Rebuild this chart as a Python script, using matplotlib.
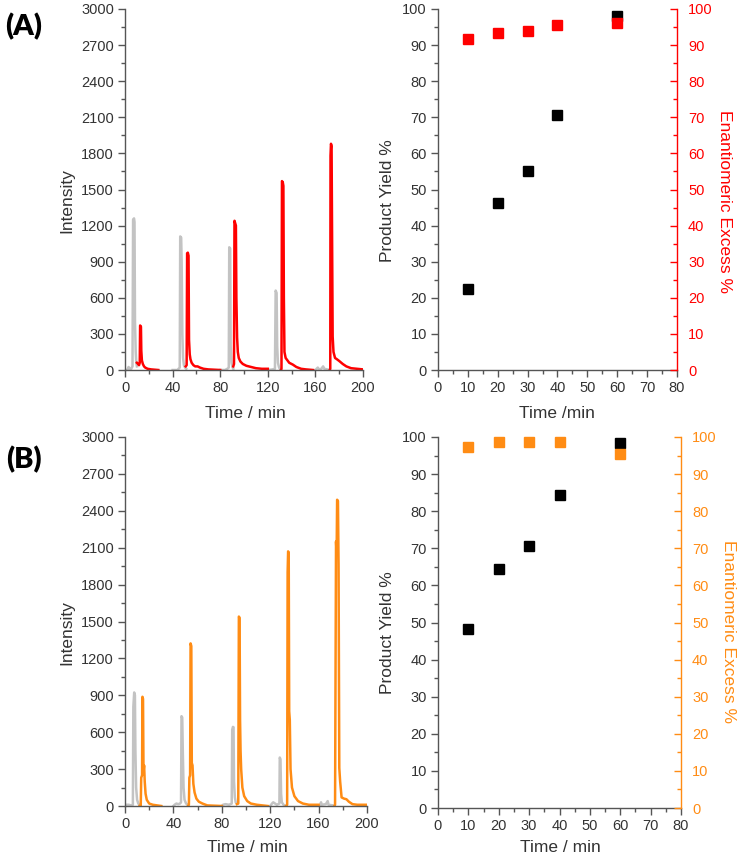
import numpy as np
import matplotlib
matplotlib.use("Agg")
import matplotlib.pyplot as plt
from matplotlib.ticker import MultipleLocator

plt.rcParams["font.family"] = ["Liberation Sans", "DejaVu Sans"]

nan = np.nan

# ---- panel A chromatogram (grey = before, red = product) ----
a_grey_time = [0, 2, 3, 4, 5, 6.3, 6.8, 7.6, 8.0, 8.4, 9, 9.5, 10, nan,
               40, 44, 45, 46, 46.4, 47.2, 47.6, 48.2, 48.8, 49.5, 50.5, 51.5, nan,
               80, 84, 86, 87.2, 87.6, 88.4, 88.8, 89.5, 90.5, 91, nan,
               120, 124, 126, 126.6, 127.4, 127.9, 128.5, 129.5, 131, nan,
               160, 162, 163, 165, 166.5, 167.5, 170, 172]
a_grey_int = [0, 0, 25, 10, 5, 30, 1250, 1260, 1230, 400, 150, 60, 30, nan,
              0, 0, 10, 20, 1110, 1100, 900, 300, 100, 40, 20, 10, nan,
              0, 0, 10, 20, 1020, 1010, 200, 60, 20, 10, nan,
              0, 5, 10, 660, 640, 200, 60, 20, 0, nan,
              0, 20, 5, 10, 30, 10, 5, 0]
a_red_time = [10, 11, 11.8, 12.4, 12.7, 13.4, 13.7, 14.2, 15, 16, 17, 19, 22, 28, nan,
              51, 51.8, 52.2, 52.8, 53.4, 53.8, 54.4, 55, 56, 57.5, 59, 61, 63, 66, 70, 80, nan,
              91, 91.6, 92, 92.6, 93.2, 93.6, 94.2, 94.8, 95.6, 97, 99, 102, 106, 110, 115, 120, nan,
              131, 131.5, 131.9, 132.6, 133.1, 133.5, 134, 135, 136.5, 138, 141, 144, 148, 152, 158, nan,
              172, 172.5, 172.7, 173.1, 173.6, 174.1, 174.5, 175.2, 176.5, 178, 180, 183, 186, 190, 195, 200]
a_red_int = [60, 50, 40, 60, 370, 360, 160, 80, 50, 30, 20, 10, 5, 0, nan,
             30, 40, 970, 975, 950, 250, 130, 90, 60, 40, 30, 30, 20, 10, 5, 0, nan,
             30, 50, 1240, 1220, 1200, 600, 270, 150, 100, 70, 50, 35, 25, 15, 10, 10, nan,
             0, 10, 1570, 1560, 1530, 600, 150, 100, 80, 60, 45, 25, 10, 5, 0, nan,
             0, 10, 1780, 1880, 1860, 970, 280, 150, 100, 90, 75, 50, 30, 15, 10, 5]

# ---- panel B chromatogram (grey = before, orange = product) ----
b_grey_time = [0, 3, 5, 6.5, 6.9, 7.6, 8.2, 8.6, 9.2, 10, 11, 12, nan,
               40, 41, 42.5, 44, 45.5, 46.3, 46.7, 47.3, 47.8, 48.4, 49.2, 50.5, 52, nan,
               80, 81, 83, 86, 88.2, 88.6, 89.2, 89.7, 90.1, 90.8, 91.5, 92.5, nan,
               120, 121.5, 122.5, 124, 125.5, 127.6, 127.9, 128.5, 129, 129.6, 131, 133, nan,
               160, 161.5, 162, 162.5, 166, 167.5, 168.2, 172, 173]
b_grey_int = [10, 10, 5, 10, 806, 923, 900, 450, 150, 50, 20, 10, nan,
              0, 10, 20, 15, 20, 30, 730, 720, 430, 150, 50, 20, 10, nan,
              0, 10, 15, 10, 20, 620, 643, 640, 200, 70, 30, 20, nan,
              0, 20, 30, 20, 10, 20, 394, 380, 100, 30, 10, 0, nan,
              5, 10, 30, 10, 15, 40, 10, 5, 0]
b_orange_time = [12, 13, 13.4, 14.1, 14.4, 14.9, 15.3, 15.8, 16.3, 17, 18, 20, 23, 30, nan,
                 52, 52.8, 53.2, 53.8, 54.2, 54.8, 55.2, 55.8, 56.5, 57.5, 59, 61, 64, 68, 80, nan,
                 92.5, 93.6, 94.1, 94.7, 95.1, 95.5, 96, 97, 98.5, 101, 104, 109, 118, nan,
                 133, 134, 134.4, 134.8, 135.3, 135.7, 136.2, 136.8, 138, 140, 143, 147, 152, 160, nan,
                 173, 173.6, 174.4, 174.9, 175.3, 176.0, 176.5, 177.1, 177.8, 179, 181, 183, 185, 188, 192, 200]
b_orange_int = [0, 0, 230, 250, 888, 870, 280, 330, 200, 100, 50, 20, 10, 0, nan,
                0, 10, 230, 250, 1322, 1300, 350, 330, 180, 110, 60, 35, 20, 5, 0, nan,
                15, 20, 1540, 1530, 700, 450, 300, 150, 80, 40, 20, 10, 0, nan,
                0, 10, 1900, 2070, 2060, 770, 700, 300, 150, 80, 40, 20, 10, 10, nan,
                0, 10, 2150, 2050, 2490, 2480, 1960, 310, 200, 70, 60, 55, 35, 15, 10, 10]

# ---- yield / ee vs time ----
sample_time = [10, 20, 30, 40, 60]
a_yield = [22.3, 46.2, 55.0, 70.5, 98.0]
a_ee = [91.7, 93.3, 94.0, 95.7, 96.2]
b_yield = [48.2, 64.5, 70.6, 84.5, 98.4]
b_ee = [97.2, 98.7, 98.6, 98.6, 95.5]

RED = "#ff0000"
ORANGE = "#ff8c14"
GREY = "#c3c3c3"
SPINE = "#555555"
TEXT = "#333333"

W, H = 740, 859
fig = plt.figure(figsize=(W / 100, H / 100), dpi=100)


def box(left, top, right, bottom):
    return [left / W, 1 - bottom / H, (right - left) / W, (bottom - top) / H]


def label(x, y, s, **kw):
    fig.text(x / W, 1 - y / H, s, ha="center", va="center", **kw)


def style_axis(ax):
    for side in ["left", "bottom", "right", "top"]:
        ax.spines[side].set_color(SPINE)
        ax.spines[side].set_linewidth(1.0)
    ax.spines["top"].set_visible(False)
    ax.tick_params(which="both", direction="out", colors=SPINE, labelcolor=TEXT,
                   labelsize=10.5, width=1.0, pad=3)
    ax.tick_params(which="major", length=5)
    ax.tick_params(which="minor", length=3)


def draw_chromatogram(ax, gt, gi, ct, ci, color):
    ax.plot(gt, gi, color=GREY, lw=1.8)
    ax.plot(ct, ci, color=color, lw=1.8)
    ax.set_xlim(0, 200)
    ax.set_ylim(0, 3000)
    ax.xaxis.set_major_locator(MultipleLocator(40))
    ax.xaxis.set_minor_locator(MultipleLocator(20))
    ax.yaxis.set_major_locator(MultipleLocator(300))
    ax.yaxis.set_minor_locator(MultipleLocator(150))
    style_axis(ax)
    ax.spines["right"].set_visible(False)


def draw_yield(ax, y, ee, color):
    ax.plot(sample_time, y, "s", color="black", ms=6.5, clip_on=False)
    ax.set_xlim(0, 80)
    ax.set_ylim(0, 100)
    ax.xaxis.set_major_locator(MultipleLocator(10))
    ax.xaxis.set_minor_locator(MultipleLocator(5))
    ax.yaxis.set_major_locator(MultipleLocator(10))
    ax.yaxis.set_minor_locator(MultipleLocator(5))
    style_axis(ax)
    ax.spines["right"].set_visible(False)

    ax2 = ax.twinx()
    ax2.plot(sample_time, ee, "s", color=color, ms=6.5, clip_on=False)
    ax2.set_ylim(0, 100)
    ax2.yaxis.set_major_locator(MultipleLocator(10))
    ax2.yaxis.set_minor_locator(MultipleLocator(5))
    for side in ["left", "bottom", "top"]:
        ax2.spines[side].set_visible(False)
    ax2.spines["right"].set_color(color)
    ax2.spines["right"].set_linewidth(1.0)
    ax2.tick_params(which="both", direction="in", colors=color, labelcolor=color,
                    labelsize=10.5, width=1.0, pad=8)
    ax2.tick_params(which="major", length=5)
    ax2.tick_params(which="minor", length=3)


ax_a1 = fig.add_axes(box(125, 9, 363, 370))
draw_chromatogram(ax_a1, a_grey_time, a_grey_int, a_red_time, a_red_int, RED)
ax_a2 = fig.add_axes(box(438, 9, 677, 370))
draw_yield(ax_a2, a_yield, a_ee, RED)

ax_b1 = fig.add_axes(box(125, 437, 367, 806))
draw_chromatogram(ax_b1, b_grey_time, b_grey_int, b_orange_time, b_orange_int, ORANGE)
ax_b2 = fig.add_axes(box(438, 437, 681, 808))
draw_yield(ax_b2, b_yield, b_ee, ORANGE)

# axis titles
label(67, 201, "Intensity", rotation=90, fontsize=12.5, color=TEXT)
label(245, 413, "Time / min", fontsize=12.5, color=TEXT)
label(388, 201, "Product Yield %", rotation=90, fontsize=12.5, color=TEXT)
label(557, 413, "Time /min", fontsize=12.5, color=TEXT)
label(724, 201, "Enantiomeric Excess %", rotation=270, fontsize=12.5, color=RED)

label(67, 633, "Intensity", rotation=90, fontsize=12.5, color=TEXT)
label(247, 848, "Time / min", fontsize=12.5, color=TEXT)
label(387, 633, "Product Yield %", rotation=90, fontsize=12.5, color=TEXT)
label(560, 848, "Time / min", fontsize=12.5, color=TEXT)
label(729, 632, "Enantiomeric Excess %", rotation=270, fontsize=12.5, color=ORANGE)

label(24, 27, "(A)", fontsize=21, fontweight="heavy", family=["Lato", "DejaVu Sans"])
label(24, 460, "(B)", fontsize=21, fontweight="heavy", family=["Lato", "DejaVu Sans"])

fig.savefig("out.png", dpi=100)
